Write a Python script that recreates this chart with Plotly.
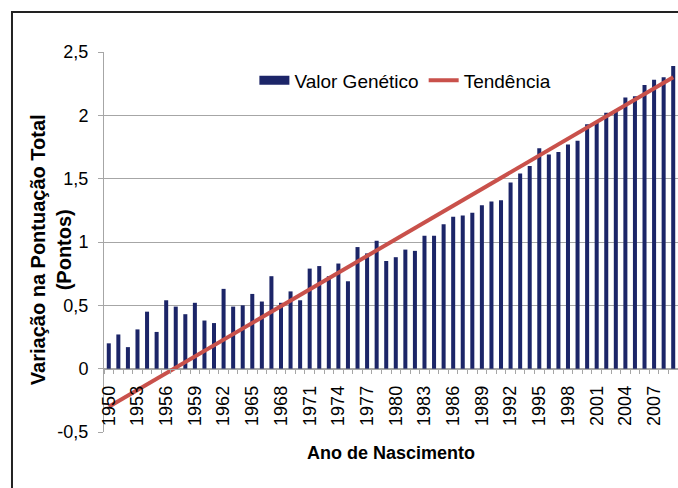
import plotly.graph_objects as go

years = list(range(1950, 2010))
valor_genetico = [
    0.20, 0.27, 0.17, 0.31, 0.45, 0.29, 0.54, 0.49, 0.43, 0.52,
    0.38, 0.36, 0.63, 0.49, 0.50, 0.59, 0.53, 0.73, 0.52, 0.61,
    0.54, 0.79, 0.81, 0.73, 0.83, 0.69, 0.96, 0.91, 1.01, 0.85,
    0.88, 0.94, 0.93, 1.05, 1.05, 1.14, 1.20, 1.21, 1.23, 1.29,
    1.32, 1.33, 1.47, 1.54, 1.60, 1.74, 1.69, 1.71, 1.77, 1.80,
    1.93, 1.95, 2.02, 2.04, 2.14, 2.15, 2.24, 2.28, 2.30, 2.39,
]
trend_years = [1950, 2009]
trend_values = [-0.30, 2.30]

x_tick_years = years[::3]
y_tick_vals = [-0.5, 0, 0.5, 1, 1.5, 2, 2.5]
y_tick_text = ["-0,5", "0", "0,5", "1", "1,5", "2", "2,5"]

NAVY = "#1c2568"
RED = "#c9514b"
GRID = "#a6a6a6"
FONT = "Liberation Sans, Arial, sans-serif"

fig = go.Figure()
fig.add_trace(go.Bar(
    x=years, y=valor_genetico, width=0.42,
    marker=dict(color=NAVY, line=dict(width=0)),
    name="Valor Genético", showlegend=False,
))
# legend proxy for the bar series (wide bar-like swatch)
fig.add_trace(go.Scatter(
    x=[None], y=[None], mode="lines",
    line=dict(color=NAVY, width=9),
    name="Valor Genético", showlegend=True,
))
fig.add_trace(go.Scatter(
    x=trend_years, y=trend_values, mode="lines",
    line=dict(color=RED, width=4),
    name="Tendência", showlegend=True,
))

fig.update_layout(
    width=678, height=488,
    margin=dict(l=104, r=0, t=52, b=56),
    paper_bgcolor="white", plot_bgcolor="white",
    separators=",.",
    font=dict(family=FONT, size=18, color="black"),
    showlegend=True,
    legend=dict(
        orientation="h", x=0.262, y=0.925, xanchor="left", yanchor="middle",
        font=dict(family=FONT, size=19, color="black"),
        bgcolor="rgba(0,0,0,0)", borderwidth=0,
        itemwidth=30, tracegroupgap=0,
    ),
    xaxis=dict(
        range=[1949.5, 2009.5],
        anchor="free", position=1/6,
        tickmode="array", tickvals=x_tick_years,
        ticktext=[str(y) for y in x_tick_years],
        tickangle=-90, ticks="",
        ticklabelstandoff=9,
        showline=True, linecolor=GRID, linewidth=1,
        showgrid=False, zeroline=False,
        minor=dict(tickmode="linear", tick0=1949.5, dtick=1,
                   ticks="outside", ticklen=4, tickcolor=GRID,
                   showgrid=False),
        tickfont=dict(family=FONT, size=18, color="black"),
        title=dict(text="<b>Ano de Nascimento</b>", standoff=21,
                   font=dict(family=FONT, size=18, color="black")),
    ),
    yaxis=dict(
        range=[-0.5, 2.5],
        tickmode="array", tickvals=y_tick_vals, ticktext=y_tick_text,
        ticks="outside", ticklen=5, tickcolor=GRID,
        ticklabelstandoff=6,
        showline=True, linecolor=GRID, linewidth=1,
        showgrid=True, gridcolor=GRID, gridwidth=1,
        zeroline=False,
        tickfont=dict(family=FONT, size=18, color="black"),
    ),
    annotations=[dict(
        text="<b>Variação na Pontuação Total<br>(Pontos)</b>",
        xref="paper", yref="paper", x=-0.092, y=0.479,
        xanchor="center", yanchor="middle", textangle=-90,
        showarrow=False, align="center",
        font=dict(family=FONT, size=20, color="black"),
    )],
    shapes=[dict(
        type="rect", xref="paper", yref="paper",
        x0=-0.1603, x1=1.05, y0=-0.3, y1=1.1053,
        line=dict(color="#222222", width=2), fillcolor="rgba(0,0,0,0)",
        layer="above",
    )],
)

fig.write_html(
    "out.html",
    config={"displayModeBar": False},
    post_script="document.body.style.margin='0';document.body.style.overflow='hidden';",
)
